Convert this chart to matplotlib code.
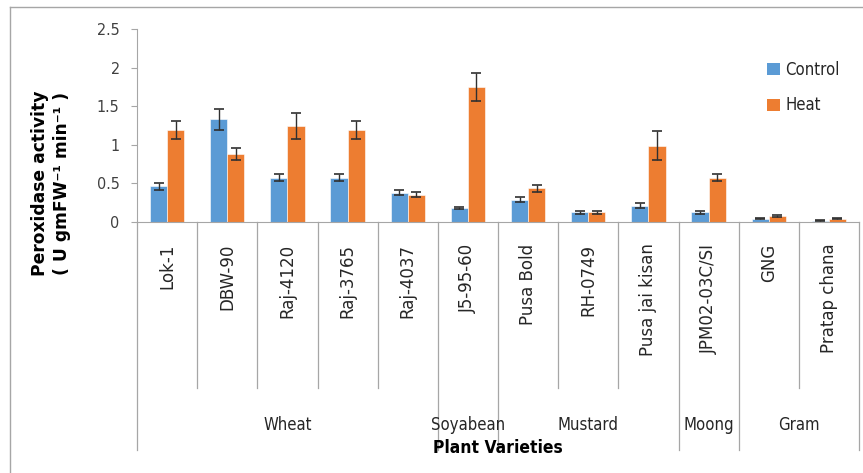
import numpy as np
import matplotlib
matplotlib.use("Agg")
import matplotlib.pyplot as plt
from matplotlib import font_manager as fm
from matplotlib.lines import Line2D
from matplotlib.patches import Patch

# data
varieties = ["Lok-1", "DBW-90", "Raj-4120", "Raj-3765", "Raj-4037", "J5-95-60",
             "Pusa Bold", "RH-0749", "Pusa jai kisan", "JPM02-03C/SI", "GNG", "Pratap chana"]
control = [0.46, 1.33, 0.575, 0.575, 0.38, 0.185, 0.29, 0.125, 0.21, 0.125, 0.045, 0.015]
control_err = [0.04, 0.14, 0.05, 0.05, 0.03, 0.015, 0.03, 0.015, 0.03, 0.015, 0.01, 0.005]
heat = [1.19, 0.88, 1.245, 1.19, 0.355, 1.75, 0.435, 0.125, 0.99, 0.575, 0.075, 0.045]
heat_err = [0.12, 0.08, 0.165, 0.12, 0.03, 0.18, 0.05, 0.015, 0.19, 0.05, 0.01, 0.005]

crops = ["Wheat", "Soyabean", "Mustard", "Moong", "Gram"]
crop_sizes = [5, 1, 3, 1, 2]

BLUE = "#5B9BD5"
ORANGE = "#ED7D31"
GRID = "#a6a6a6"

# a narrow font to stand in for Calibri
fonts = fm.fontManager.ttflist
names = {f.name for f in fonts}
has_cond = any(f.name == "DejaVu Sans" and f.stretch == "condensed" for f in fonts)


def narrow(size, weight="normal"):
    if "Liberation Sans Narrow" in names:
        return fm.FontProperties(family="Liberation Sans Narrow", size=size, weight=weight)
    if has_cond:
        return fm.FontProperties(family="DejaVu Sans", stretch="condensed", size=size, weight=weight)
    return fm.FontProperties(family="Liberation Sans", size=size * 0.9, weight=weight)


fig = plt.figure(figsize=(8.63, 4.73), dpi=100)
W, H = 863, 473
ax = fig.add_axes([137 / W, 1 - 222 / H, 722 / W, 193 / H])

x = np.arange(len(varieties))
bw = 0.285
ax.bar(x - bw / 2, control, bw, color=BLUE, edgecolor="#ffffff", linewidth=0.4, zorder=2)
ax.bar(x + bw / 2, heat, bw, color=ORANGE, edgecolor="#ffffff", linewidth=0.4, zorder=2)
ax.errorbar(x - bw / 2, control, yerr=control_err, fmt="none", ecolor="#303030",
            elinewidth=1, capsize=3.5, capthick=1.2, zorder=3)
ax.errorbar(x + bw / 2, heat, yerr=heat_err, fmt="none", ecolor="#303030",
            elinewidth=1, capsize=3.5, capthick=1.2, zorder=3)

ax.set_xlim(-0.5, len(varieties) - 0.5)
ax.set_ylim(0, 2.5)
ax.set_yticks([0, 0.5, 1, 1.5, 2, 2.5])
ax.set_yticklabels(["0", "0.5", "1", "1.5", "2", "2.5"], fontproperties=narrow(11.5), color="#404040")
ax.tick_params(axis="y", length=4.5, width=0.8, color=GRID, pad=8)
ax.set_xticks([])
for s in ["top", "right"]:
    ax.spines[s].set_visible(False)
ax.spines["left"].set_color(GRID)
ax.spines["bottom"].set_color(GRID)

trans = ax.get_xaxis_transform()

# category labels
for i, name in enumerate(varieties):
    ax.text(i, -0.112, name, rotation=90, ha="center", va="top", fontsize=12,
            family="DejaVu Sans", color="#262626", transform=trans)

# group boundaries and category separators
edges = np.cumsum([0] + crop_sizes)
inner_y = (222 - 388) / 193
outer_y = (222 - 450) / 193
for k in range(len(varieties) + 1):
    y0 = outer_y if k in edges else inner_y
    ax.plot([k - 0.5, k - 0.5], [0, y0], color=GRID, lw=0.9, transform=trans, clip_on=False)

# group labels
for name, a, b in zip(crops, edges[:-1], edges[1:]):
    ax.text((a + b - 1) / 2, (222 - 425) / 193, name, ha="center", va="center",
            fontproperties=narrow(12), color="#262626", transform=trans)

ax.text(0.5, (222 - 448) / 193, "Plant Varieties", transform=ax.transAxes, ha="center",
        va="center", fontproperties=narrow(12.5, "bold"), color="#000000")

fig.text(51 / W, 1 - 183 / H, "Peroxidase activity\n( U gmFW\u207b\u00b9 min\u207b\u00b9 )",
         rotation=90, ha="center", va="center", fontsize=12.3, fontweight="bold",
         family="DejaVu Sans", linespacing=1.3, color="#000000")

handles = [Patch(facecolor=BLUE, edgecolor="none"), Patch(facecolor=ORANGE, edgecolor="none")]
ax.legend(handles, ["Control", "Heat"], loc="upper left",
          bbox_to_anchor=((767 - 137) / 722, (222 - 61) / 193), frameon=False,
          prop=narrow(12), handlelength=0.75, handleheight=0.75,
          handletextpad=0.35, labelspacing=1.05, borderaxespad=0, borderpad=0,
          labelcolor="#262626")

# chart area border
fig.add_artist(Line2D([10 / W, 10 / W], [0, 1 - 7 / H], color=GRID, lw=1))
fig.add_artist(Line2D([10 / W, 1], [1 - 7 / H, 1 - 7 / H], color=GRID, lw=1))

fig.savefig("out.png", dpi=100)
